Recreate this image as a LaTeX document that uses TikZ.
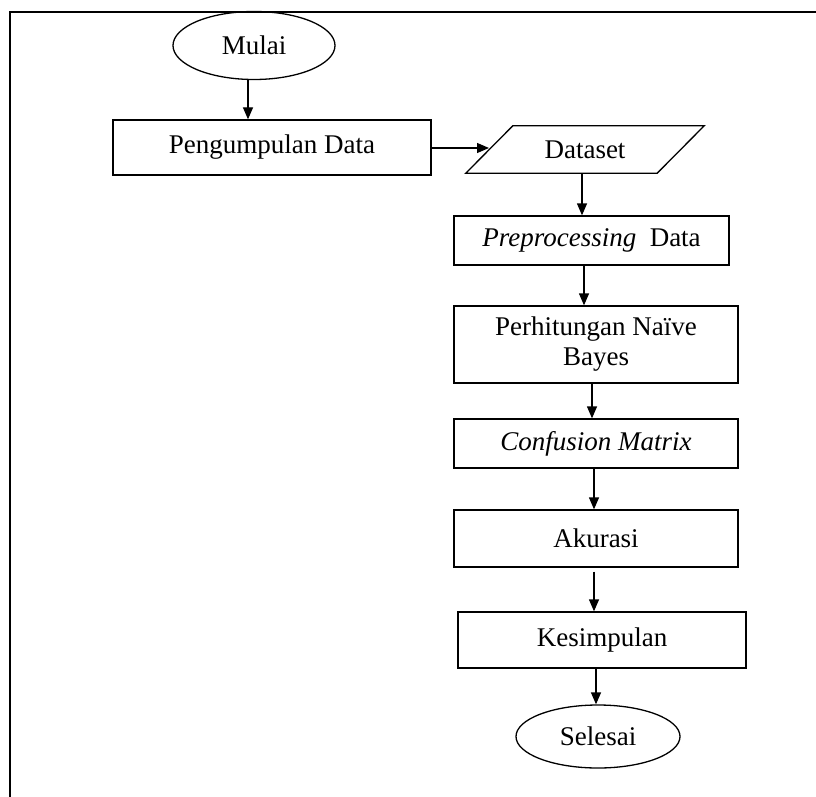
\documentclass[tikz,border=0pt]{standalone}
\usepackage{fontspec}
\setmainfont{Liberation Serif}
\usetikzlibrary{arrows.meta,shapes.geometric,calc}
\begin{document}
\begin{tikzpicture}[x=1pt,y=-1pt,
  every node/.style={font=\fontsize{27}{30}\selectfont, inner sep=0pt},
  boxnode/.style={draw, line width=1.3pt, rectangle},
  termnode/.style={draw, line width=1.3pt, ellipse},
  arr/.style={line width=1.3pt, -{Triangle[width=10pt,length=12pt]}},
  framestyle/.style={line width=2pt}
]
\useasboundingbox (0,0) rectangle (816,797);
% frame
\draw[framestyle] (10,797) -- (10,12) -- (816,12);

% nodes
\node[termnode, minimum width=162pt, minimum height=68pt] (mulai) at (254,45.5) {Mulai};
\node[boxnode, minimum width=318pt, minimum height=55pt] (pd) at (272,147.5) {Pengumpulan Data};
\node[minimum width=238pt, minimum height=47pt] (ds) at (585,149.5) {Dataset};
\draw[line width=1.3pt] (ds.south west) -- ($(ds.north west)+(47,0)$) -- (ds.north east) -- ($(ds.south east)-(47,0)$) -- cycle;
\coordinate (dsin) at (489,148);
\node[boxnode, minimum width=275pt, minimum height=49pt] (prep) at (591.5,240.5) {\textit{Preprocessing}\ \ Data};
\node[boxnode, minimum width=284pt, minimum height=77pt, align=center] (perh) at (596,344.5) {Perhitungan Naïve\\Bayes};
\node[boxnode, minimum width=284pt, minimum height=49pt] (conf) at (596,443.5) {\textit{Confusion Matrix}};
\node[boxnode, minimum width=284pt, minimum height=57pt] (aku) at (596,538.5) {Akurasi};
\node[boxnode, minimum width=288pt, minimum height=56pt] (kes) at (602,640) {Kesimpulan};
\node[termnode, minimum width=164pt, minimum height=63pt] (sel) at (598,736.5) {Selesai};

% connectors
\draw[arr] ([xshift=-6pt]mulai.south) -- ([xshift=-6pt]mulai.south |- pd.north);
\draw[arr] (pd.east |- dsin) -- (dsin);
\draw[arr] ([xshift=-3pt]ds.south) -- ([xshift=-3pt]ds.south |- prep.north);
\draw[arr] ([xshift=-7.5pt]prep.south) -- ([xshift=-7.5pt]prep.south |- perh.north);
\draw[arr] ([xshift=-4pt]perh.south) -- ([xshift=-4pt]perh.south |- conf.north);
\draw[arr] ([xshift=-2pt]conf.south) -- ([xshift=-2pt]conf.south |- aku.north);
\draw[arr] ([xshift=-2pt,yshift=-4pt]aku.south) -- ([xshift=-2pt]aku.south |- kes.north);
\draw[arr] ([xshift=-6pt]kes.south) -- ([xshift=-6pt]kes.south |- sel.north);
\end{tikzpicture}
\end{document}
